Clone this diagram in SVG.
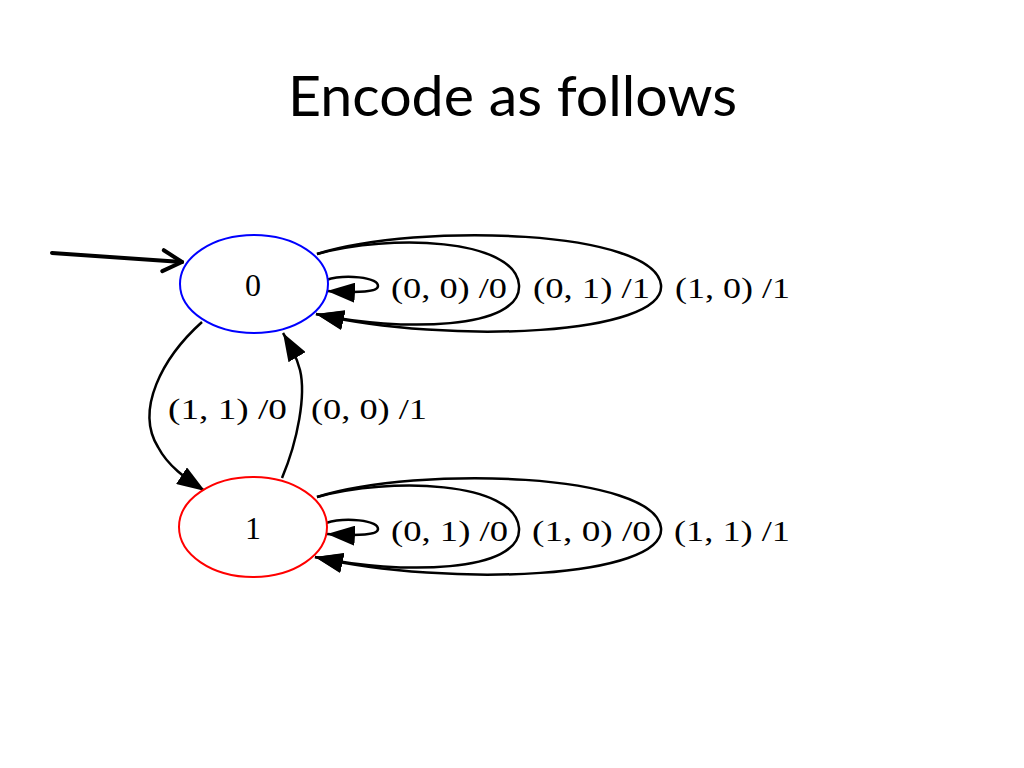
<svg xmlns="http://www.w3.org/2000/svg" width="1024" height="768" viewBox="0 0 1024 768">
  <style>
    .title { font-family: Lato, "Open Sans", "Liberation Sans", sans-serif; font-size: 57px; fill: #000; }
    .lbl { font-family: "Liberation Serif", "DejaVu Serif", serif; font-size: 30px; fill: #000; }
    .nlbl { font-family: "Liberation Serif", "DejaVu Serif", serif; font-size: 32px; fill: #000; text-anchor: middle; }
    .edge { fill: none; stroke: #000; stroke-width: 2.5; marker-end: url(#arr); }
    .node { fill: #fff; stroke-width: 2; }
  </style>
  <defs>
    <marker id="arr" viewBox="0 0 28 20" refX="28" refY="10" markerWidth="28" markerHeight="20" markerUnits="userSpaceOnUse" orient="auto">
      <path d="M0,0 L28,10 L0,20 Z" fill="#000"/>
    </marker>
    <marker id="open" viewBox="0 0 22 24" refX="20" refY="12" markerWidth="22" markerHeight="24" markerUnits="userSpaceOnUse" orient="auto" overflow="visible">
      <path d="M1,1.5 L20,12 L1,22.5" fill="none" stroke="#000" stroke-width="4" stroke-linecap="round" stroke-linejoin="round"/>
    </marker>
  </defs>
  <rect width="1024" height="768" fill="#fff"/>
  <text class="title" x="288" y="116" textLength="449" lengthAdjust="spacingAndGlyphs">Encode as follows</text>

  <g id="connectors">
    <line x1="52" y1="253" x2="182" y2="262" stroke="#000" stroke-width="4" stroke-linecap="round" marker-end="url(#open)"/>
    <!-- node 0 self loops -->
    <path class="edge" d="M326,280 C345,274 378,277 378,286 C378,292 360,293 327,291"/>
    <path class="edge" d="M317,254 C390,234 515,238 519,285 C522,330 400,332 316,314"/>
    <path class="edge" d="M317,254 C420,222 655,230 661,285 C666,335 450,345 316,314"/>
    <!-- node 1 self loops -->
    <path class="edge" d="M326,523 C345,517 378,520 378,529 C378,535 360,536 327,534"/>
    <path class="edge" d="M317,497 C390,477 515,481 519,528 C522,573 400,575 315,557"/>
    <path class="edge" d="M317,497 C420,465 655,473 661,528 C666,578 450,588 315,557"/>
    <!-- 0 -> 1 -->
    <path class="edge" d="M202,322 C162,358 135,410 158,447 C168,466 185,478 205,491"/>
    <!-- 1 -> 0 -->
    <path class="edge" d="M282,478 C298,440 306,395 300,370 C296,355 290,345 283,333"/>

    <text class="lbl" x="391" y="298" textLength="116" lengthAdjust="spacingAndGlyphs">(0, 0) /0</text>
    <text class="lbl" x="533" y="298" textLength="117" lengthAdjust="spacingAndGlyphs">(0, 1) /1</text>
    <text class="lbl" x="675" y="298" textLength="115" lengthAdjust="spacingAndGlyphs">(1, 0) /1</text>
    <text class="lbl" x="391" y="541" textLength="117" lengthAdjust="spacingAndGlyphs">(0, 1) /0</text>
    <text class="lbl" x="532" y="541" textLength="119" lengthAdjust="spacingAndGlyphs">(1, 0) /0</text>
    <text class="lbl" x="674" y="541" textLength="116" lengthAdjust="spacingAndGlyphs">(1, 1) /1</text>
    <text class="lbl" x="168" y="419" textLength="119" lengthAdjust="spacingAndGlyphs">(1, 1) /0</text>
    <text class="lbl" x="311" y="419" textLength="116" lengthAdjust="spacingAndGlyphs">(0, 0) /1</text>
  </g>

  <g id="node0">
    <ellipse class="node" cx="254" cy="284" rx="74" ry="49" stroke="#0000ff"/>
    <text class="nlbl" x="253" y="296">0</text>
  </g>
  <g id="node1">
    <ellipse class="node" cx="253" cy="527" rx="74" ry="50" stroke="#ff0000"/>
    <text class="nlbl" x="253" y="539">1</text>
  </g>
</svg>
